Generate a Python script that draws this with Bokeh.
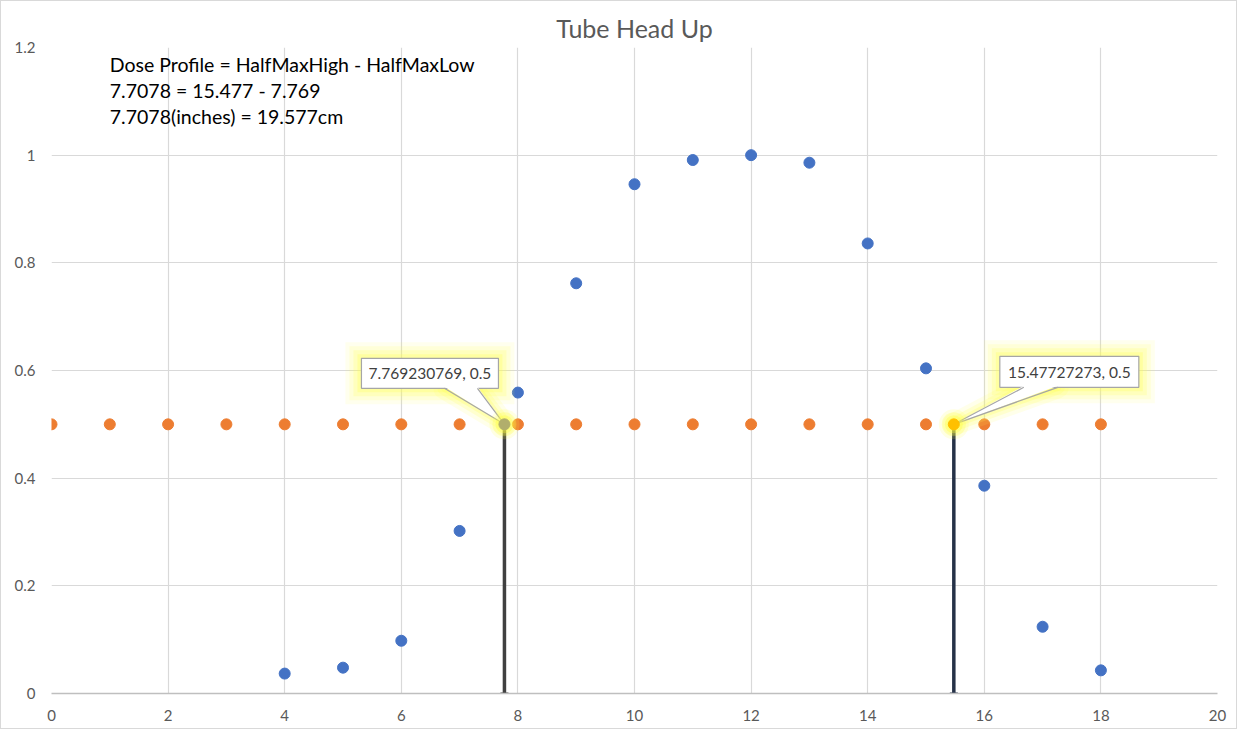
from bokeh.plotting import figure
from bokeh.models import Label, FixedTicker, Range1d
from bokeh.core.properties import value
from bokeh.embed import file_html
from bokeh.resources import INLINE

# ---------------- data ----------------
x_dose = [4, 5, 6, 7, 8, 9, 10, 11, 12, 13, 14, 15, 16, 17, 18]
y_dose = [0.037, 0.048, 0.098, 0.302, 0.559, 0.762, 0.946, 0.991, 1.0, 0.986, 0.836, 0.604, 0.386, 0.124, 0.043]
x_half = list(range(0, 19))
y_half = [0.5] * 19
half_low = 7.769230769
half_high = 15.47727273
half_val = 0.5
x_ticks = [0, 2, 4, 6, 8, 10, 12, 14, 16, 18, 20]
y_ticks = [0, 0.2, 0.4, 0.6, 0.8, 1.0, 1.2]
y_tick_labels = ["0", "0.2", "0.4", "0.6", "0.8", "1", "1.2"]
title_text = "Tube Head Up"
note_lines = ["Dose Profile = HalfMaxHigh - HalfMaxLow",
              "7.7078 = 15.477 - 7.769",
              "7.7078(inches) = 19.577cm"]

FONT = "Lato"
GRAY = "#595959"
W, H = 1237, 729
ML, MR, MT, MB = 50, 21, 46, 37

p = figure(width=W, height=H, output_backend="svg", toolbar_location=None,
           x_range=Range1d(0, 20), y_range=Range1d(0, 1.2),
           min_border_left=ML, min_border_right=MR, min_border_top=MT, min_border_bottom=MB)
p.styles = {"border": "1px solid #d9d9d9"}
p.outline_line_color = None
p.background_fill_color = "white"
p.border_fill_color = "white"

sx = (W - ML - MR) / 20.0
sy = (H - MT - MB) / 1.2

p.title.text = title_text
p.title.align = "center"
p.title.text_font = FONT
p.title.text_font_style = "normal"
p.title.text_font_size = "25px"
p.title.text_color = GRAY

# axes
p.xaxis.ticker = FixedTicker(ticks=x_ticks)
p.yaxis.ticker = FixedTicker(ticks=y_ticks)
p.yaxis.major_label_overrides = {t: l for t, l in zip(y_ticks, y_tick_labels)}
for ax in (p.xaxis[0], p.yaxis[0]):
    ax.major_tick_line_color = None
    ax.minor_tick_line_color = None
    ax.major_label_text_font = FONT
    ax.major_label_text_font_size = "15px"
    ax.major_label_text_color = GRAY
p.xaxis.axis_line_color = "#bfbfbf"
p.xaxis.axis_line_width = 1.5
p.xaxis.major_label_standoff = 10
p.yaxis.axis_line_color = None
p.yaxis.major_label_standoff = 10
p.xgrid.ticker = FixedTicker(ticks=x_ticks)
p.ygrid.ticker = FixedTicker(ticks=y_ticks)
p.grid.grid_line_color = "#d9d9d9"
p.grid.grid_line_width = 1.2

# series
p.scatter(x_dose, y_dose, size=11, color="#4472C4")
p.scatter(x_half, y_half, size=11, color="#ED7D31")

# vertical half-max lines
p.segment([half_low], [0], [half_low], [half_val], line_color="#404040", line_width=3.5)
p.segment([half_high], [0], [half_high], [half_val], line_color="#263248", line_width=3.5)
p.scatter([half_low], [0], marker="dash", size=8, line_color="#404040", line_width=2)
p.scatter([half_high], [0], marker="dash", size=8, line_color="#263248", line_width=2)

# note text
for i, t in enumerate(note_lines):
    p.add_layout(Label(x=1.0, y=1.2, x_offset=0, y_offset=-(17 + 26 * i), text=t,
                       text_font=FONT, text_font_size="19.5px", text_color="black",
                       text_baseline="middle"))

# callouts built from glyphs (offsets in screen px converted to data units)
def callout(px, py, cx, cy, bw, bh, base0, base1, text):
    X = px + cx / sx
    Y = py + cy / sy
    by = Y - (bh / 2) / sy
    # glow around box
    for pad, a in [(16, 0.10), (12, 0.14), (8, 0.2), (4, 0.28)]:
        p.rect([X], [Y], width=bw + 2 * pad, height=bh + 2 * pad,
               width_units="screen", height_units="screen",
               fill_color="#ffff55", fill_alpha=a, line_color=None)
    tx = [px + base0 / sx, px, px + base1 / sx]
    ty = [by, py, by]
    for lw, a in [(22, 0.12), (14, 0.18), (7, 0.25)]:
        p.patch(tx, ty, fill_color="#ffff55", fill_alpha=0.0, line_color="#ffff55",
                line_alpha=a, line_width=lw, line_join="round")
    p.rect([X], [Y], width=bw, height=bh, width_units="screen", height_units="screen",
           fill_color="white", line_color="#a6a6a6", line_width=1.2)
    p.patch(tx[:], [by + 1.5 / sy, py, by + 1.5 / sy], fill_color="white", line_color=None)
    p.line(tx, ty, line_color="#a6a6a6", line_width=1.2)
    p.text([X], [Y], text=[text], text_font=value(FONT), text_font_size="15.5px",
           text_color="#404040", text_align="center", text_baseline="middle")

callout(half_low, half_val, -74.5, 51, 137, 30, -60, -27, f"{half_low:.9f}, {half_val:g}")
callout(half_high, half_val, 115.5, 52.5, 139, 31, 70, 104, f"{half_high:.8f}, {half_val:g}")

# highlighted points
for s, a in [(30, 0.15), (24, 0.25), (18, 0.35)]:
    p.scatter([half_low, half_high], [half_val, half_val], size=s, color="#ffff40", alpha=a, line_color=None)
p.scatter([half_low], [half_val], size=11, color="#b1ae6c")
p.scatter([half_high], [half_val], size=11, color="#FFC000")

open("out.html", "w").write(file_html(p, INLINE))
